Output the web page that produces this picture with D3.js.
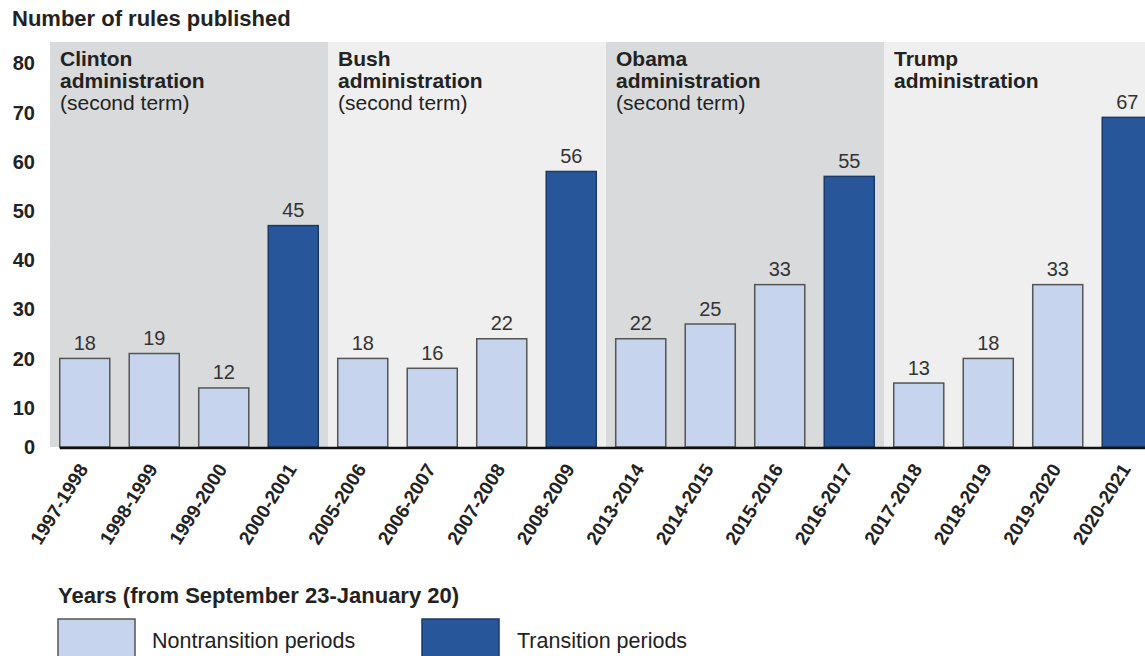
<!DOCTYPE html>
<html><head><meta charset="utf-8">
<script src="https://cdn.jsdelivr.net/npm/d3@7"></script>
<style>
html,body{margin:0;padding:0;background:#fff;}
text{font-family:"Liberation Sans",Arial,Helvetica,sans-serif;fill:#222;}
</style></head>
<body>
<svg id="chart" width="1145" height="656"></svg>
<script>
const categories = ["1997-1998","1998-1999","1999-2000","2000-2001","2005-2006","2006-2007","2007-2008","2008-2009","2013-2014","2014-2015","2015-2016","2016-2017","2017-2018","2018-2019","2019-2020","2020-2021"];
const values = [18,19,12,45,18,16,22,56,22,25,33,55,13,18,33,67];
const transition = [false,false,false,true,false,false,false,true,false,false,false,true,false,false,false,true];
const yTicks = [0,10,20,30,40,50,60,70,80];
const administrations = [
  {name:["Clinton","administration"], sub:"(second term)", first:"1997-1998", last:"2000-2001", shade:"#d9dadc"},
  {name:["Bush","administration"], sub:"(second term)", first:"2005-2006", last:"2008-2009", shade:"#efefef"},
  {name:["Obama","administration"], sub:"(second term)", first:"2013-2014", last:"2016-2017", shade:"#d9dadc"},
  {name:["Trump","administration"], sub:"", first:"2017-2018", last:"2020-2021", shade:"#efefef"}
];

const svg = d3.select("#chart");
const baseY = 447;
const x = d3.scaleBand().domain(categories).range([50, 50 + 16*69.5]).paddingInner(0.28).paddingOuter(0.14);
const y = d3.scaleLinear().domain([0,80]).range([baseY, baseY - 4.92*80]);
const half = (x.step() - x.bandwidth())/2;

// panels
administrations.forEach(a => {
  const x0 = x(a.first) - half;
  const x1 = x(a.last) + x.bandwidth() + half;
  svg.append("rect").attr("x", x0).attr("y", 42).attr("width", x1 - x0).attr("height", baseY - 42).attr("fill", a.shade);
  const lines = a.name.map(n => ({t:n, bold:true})).concat(a.sub ? [{t:a.sub, bold:false}] : []);
  lines.forEach((l,i) => {
    svg.append("text").attr("x", x0 + 10).attr("y", 66 + i*22)
      .style("font-size","21px").style("font-weight", l.bold ? "bold" : "normal").text(l.t);
  });
});

// title
svg.append("text").attr("x", 12).attr("y", 26).style("font-size","22px").style("font-weight","bold").text("Number of rules published");

// y tick labels
svg.selectAll(".ytick").data(yTicks).enter().append("text")
  .attr("x", 35).attr("y", d => y(d) + (d === 0 ? 0 : 10))
  .attr("text-anchor","end").attr("dominant-baseline","central")
  .style("font-size","20px").style("font-weight","bold").text(d => d);

// bars
svg.selectAll(".bar").data(categories).enter().append("rect")
  .attr("x", d => x(d)).attr("width", x.bandwidth())
  .attr("y", (d,i) => y(values[i])).attr("height", (d,i) => baseY - y(values[i]))
  .attr("fill", (d,i) => transition[i] ? "#27579a" : "#c6d4ed")
  .attr("stroke", (d,i) => transition[i] ? "#1b3a66" : "#555")
  .attr("stroke-width", 1.5);

// value labels
svg.selectAll(".val").data(categories).enter().append("text")
  .attr("x", d => x(d) + x.bandwidth()/2).attr("y", (d,i) => y(values[i]) - 8.5)
  .attr("text-anchor","middle").style("font-size","20px").style("fill","#333")
  .text((d,i) => values[i]);

// axis baseline
svg.append("line").attr("x1", x(categories[0])).attr("x2", 1145).attr("y1", baseY + 1).attr("y2", baseY + 1)
  .attr("stroke", "#111").attr("stroke-width", 2.5);

// x labels
svg.selectAll(".xl").data(categories).enter().append("text")
  .attr("transform", d => `translate(${x(d) + x.bandwidth()/2 + 4},${baseY + 22}) rotate(-58)`)
  .attr("text-anchor","end")
  .style("font-size","19px").style("font-weight","bold").text(d => d);

// x axis title
svg.append("text").attr("x", 58).attr("y", 603).style("font-size","22px").style("font-weight","bold")
  .text("Years (from September 23-January 20)");

// legend
const legend = [{label:"Nontransition periods", fill:"#c6d4ed", stroke:"#555", x:58, tx:152},
                {label:"Transition periods", fill:"#27579a", stroke:"#1b3a66", x:422, tx:517}];
legend.forEach(l => {
  svg.append("rect").attr("x", l.x).attr("y", 619).attr("width", 77).attr("height", 45)
    .attr("fill", l.fill).attr("stroke", l.stroke).attr("stroke-width", 1.5);
  svg.append("text").attr("x", l.tx).attr("y", 648)
    .style("font-size","21.5px").text(l.label);
});
</script>
</body></html>
